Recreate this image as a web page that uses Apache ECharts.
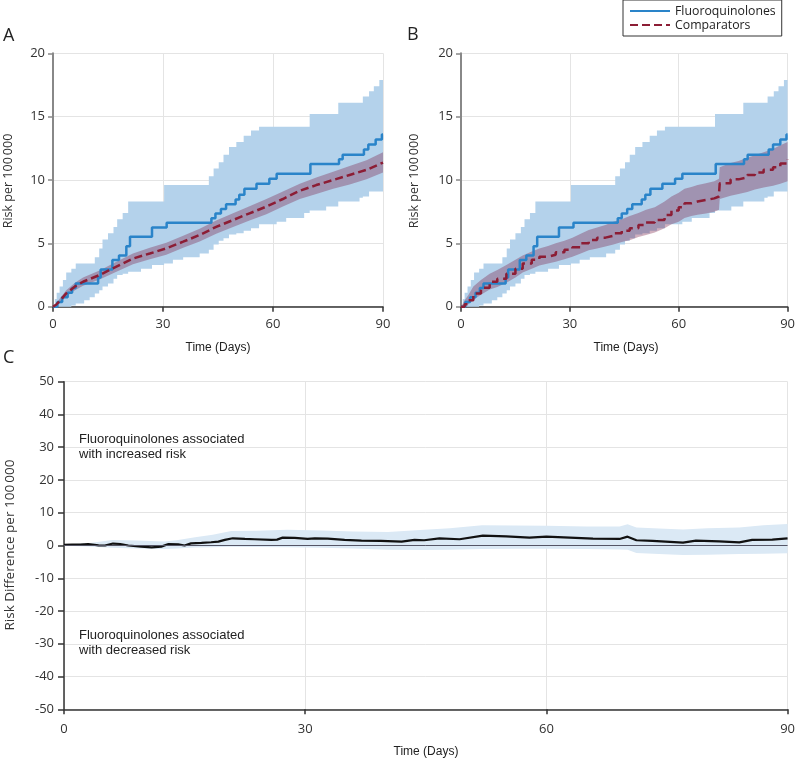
<!DOCTYPE html>
<html><head><meta charset="utf-8">
<script src="https://cdn.jsdelivr.net/npm/echarts/dist/echarts.min.js"></script>
<style>html,body{margin:0;padding:0;background:#fff}#c{width:798px;height:762px}</style>
</head><body><div id="c"></div>
<script>
// ---- Fluoroquinolones cumulative risk (step function, shared by A and B)
const fqDays = [0, 1.2, 2.5, 4, 5.2, 6.2, 12.3, 13, 16.2, 18, 20, 21, 27, 31, 43.2, 44.3, 45.8, 47.2, 49.8, 50.8, 52.2, 55.5, 59, 61, 70.2, 78, 79, 84.8, 86, 88, 89.7, 90];
const fqRisk = [0, 0.37, 0.74, 1.1, 1.47, 1.84, 2.3, 2.94, 3.68, 4.05, 4.78, 5.52, 6.25, 6.62, 6.99, 7.36, 7.72, 8.09, 8.46, 8.83, 9.3, 9.7, 10.1, 10.5, 11.26, 11.63, 12.0, 12.4, 12.8, 13.2, 13.6, 13.6];
// ---- Fluoroquinolones 95% CI (step)
const fqCiDays  = [0, 0.5, 1, 1.8, 2.7, 3.6, 5, 6.2, 8.5, 10, 11.4, 12.6, 13.5, 15, 16.5, 17.5, 19, 20.5, 24, 27, 30.3, 32.7, 35.5, 40, 42.5, 43.8, 45.2, 46.5, 48, 50, 52, 54, 56.2, 61, 63.6, 68.5, 70, 74.5, 77.8, 83.6, 84.5, 86.2, 87.5, 89, 90];
const fqCiUpper = [0, 0.6, 1.1, 1.6, 2.1, 2.7, 3.0, 3.4, 3.4, 3.4, 3.9, 4.6, 5.3, 5.8, 6.3, 6.9, 7.4, 8.3, 8.3, 8.3, 9.6, 9.6, 9.6, 9.6, 10.3, 10.9, 11.4, 12.0, 12.6, 13.0, 13.5, 13.9, 14.2, 14.2, 14.2, 14.2, 15.2, 15.2, 16.1, 16.1, 16.6, 17.0, 17.4, 17.9, 18.0];
const fqCiLower = [0, 0, 0, 0, 0, 0, 0.1, 0.26, 0.5, 0.75, 1.05, 1.3, 1.6, 1.84, 2.2, 2.5, 2.6, 2.76, 3.0, 3.3, 3.4, 3.7, 3.9, 4.2, 4.5, 4.9, 5.2, 5.4, 5.7, 5.8, 6.0, 6.2, 6.5, 6.7, 7.0, 7.4, 7.6, 7.9, 8.3, 8.6, 8.7, 9.1, 9.1, 9.1, 9.1];
// ---- Panel A comparators
const compDaysA  = [0, 1, 2, 3.6, 6, 8.2, 12.7, 17.3, 21.8, 26.4, 30.9, 35.5, 40, 44.5, 49.1, 53.6, 58.2, 62.7, 67.3, 71.8, 76.4, 80.9, 85.5, 90];
const compRiskA  = [0, 0.2, 0.5, 1.05, 1.6, 1.97, 2.5, 3.16, 3.8, 4.2, 4.6, 5.13, 5.66, 6.3, 6.84, 7.37, 7.9, 8.5, 9.15, 9.6, 10.0, 10.4, 10.8, 11.37];
const compUpperA = [0, 0.3, 0.7, 1.3, 1.9, 2.3, 2.85, 3.55, 4.2, 4.65, 5.05, 5.6, 6.15, 6.8, 7.38, 7.93, 8.5, 9.1, 9.7, 10.2, 10.65, 11.1, 11.55, 12.2];
const compLowerA = [0, 0.1, 0.3, 0.8, 1.3, 1.65, 2.15, 2.75, 3.35, 3.75, 4.1, 4.65, 5.15, 5.75, 6.3, 6.8, 7.3, 7.9, 8.5, 8.9, 9.3, 9.65, 10.05, 10.6];
// ---- Panel B comparators
const compDaysB  = [0, 1, 2, 3.4, 5.5, 7.9, 10, 12.5, 15, 17, 19.5, 21.6, 24, 26.1, 28.5, 30.7, 33, 35.2, 37.5, 39.8, 42, 44.3, 46.5, 48.9, 51, 53.4, 56.1, 58, 60, 61.6, 63.5, 65.2, 67.5, 69.8, 71.1, 71.3, 74.3, 76.5, 78.9, 81, 83.4, 86, 88, 90];
const compRiskB  = [0, 0.2, 0.5, 1.05, 1.5, 1.97, 2.2, 2.6, 3.0, 3.4, 3.7, 3.95, 4.1, 4.3, 4.5, 4.7, 5.0, 5.26, 5.45, 5.6, 5.8, 6.0, 6.2, 6.45, 6.65, 6.84, 7.24, 7.6, 7.85, 8.16, 8.3, 8.42, 8.55, 8.7, 8.87, 9.74, 10.05, 10.2, 10.4, 10.6, 10.8, 11.0, 11.3, 11.63];
const compUpperB = [0, 0.5, 0.9, 1.6, 2.1, 2.6, 2.9, 3.3, 3.7, 4.05, 4.35, 4.6, 4.8, 5.0, 5.2, 5.45, 5.75, 6.05, 6.25, 6.45, 6.7, 6.9, 7.15, 7.4, 7.65, 7.85, 8.3, 8.7, 9.0, 9.3, 9.45, 9.6, 9.75, 9.9, 10.1, 11.0, 11.35, 11.5, 11.75, 11.95, 12.2, 12.45, 12.75, 13.0];
const compLowerB = [0, 0.05, 0.2, 0.55, 0.95, 1.35, 1.55, 1.9, 2.3, 2.7, 3.0, 3.25, 3.4, 3.55, 3.75, 3.95, 4.2, 4.45, 4.6, 4.75, 4.9, 5.1, 5.25, 5.5, 5.65, 5.85, 6.2, 6.5, 6.7, 7.0, 7.15, 7.25, 7.35, 7.5, 7.65, 8.5, 8.75, 8.9, 9.05, 9.25, 9.4, 9.55, 9.7, 9.9];
// ---- Panel C risk difference
const rdDays = [0, 1, 2, 3, 4.3, 5.1, 6.1, 7, 8, 9.6, 10.9, 12.1, 13, 14.2, 15, 15.8, 17.1, 18.3, 19.2, 20, 21, 22.5, 23.7, 25.8, 26.5, 27.2, 28.7, 30.3, 31.2, 32.8, 34.9, 37, 39.4, 42, 43.6, 44.8, 46.7, 49.2, 52.1, 55, 57.9, 60, 62.9, 65.8, 69.1, 70.1, 71.2, 73.2, 77, 78.6, 81.5, 84, 85.6, 88.1, 90];
const rdValue = [0.2, 0.25, 0.3, 0.45, 0.05, 0, 0.6, 0.45, 0, -0.35, -0.55, -0.35, 0.45, 0.35, 0, 0.66, 0.8, 1.0, 1.2, 1.7, 2.2, 2.0, 1.9, 1.7, 1.8, 2.4, 2.3, 2.0, 2.2, 2.1, 1.7, 1.5, 1.4, 1.2, 1.7, 1.6, 2.2, 1.9, 3.0, 2.8, 2.4, 2.7, 2.4, 2.1, 2.0, 2.7, 1.6, 1.4, 0.86, 1.47, 1.27, 0.97, 1.7, 1.8, 2.2];
const rdCiDays  = [0, 3, 6, 9, 12.5, 14, 16.3, 18.5, 20.8, 24, 27.8, 32, 36, 40.3, 44.8, 48, 52, 56, 60, 65, 69.1, 70.1, 71.2, 74, 77, 80, 84, 87, 90];
const rdCiUpper = [0.3, 0.7, 1.7, 1.5, 1.2, 1.6, 2.5, 3.3, 4.4, 4.5, 4.8, 4.6, 4.3, 4.1, 4.8, 5.3, 6.2, 6.1, 6.0, 5.8, 5.8, 6.5, 5.5, 5.2, 4.9, 5.3, 5.5, 6.2, 6.6];
const rdCiLower = [-0.1, -0.3, -0.7, -0.9, -1.1, -0.9, -0.6, -0.5, -0.35, -0.45, -0.55, -0.7, -0.9, -1.3, -1.4, -1.3, -1.1, -1.0, -1.0, -1.1, -1.2, -1.3, -2.3, -2.6, -2.9, -2.8, -2.6, -2.5, -2.4];
// ---- axis ticks / text
const riskTicks = [0, 5, 10, 15, 20];
const dayTicks = [0, 30, 60, 90];
const rdTicks = [-50, -40, -30, -20, -10, 0, 10, 20, 30, 40, 50];

const BLUE = '#2a84c9', RED = '#8c1d35', BLUE_BAND = '#b4d2eb', RED_BAND = 'rgba(125,35,75,0.36)', C_BAND = '#dbe9f5';
const TICK_FONT = 'Open Sans';
const pairs = (d, v) => d.map((x, i) => [x, v[i]]);

function band(name, xi, yi, days, up, low, step, color, z) {
  return {
    type: 'custom', name: name, xAxisIndex: xi, yAxisIndex: yi, z: z, silent: true,
    data: [[days[0], low[0]]],
    renderItem: function (params, api) {
      const pts = [], n = days.length;
      for (let i = 0; i < n; i++) {
        pts.push(api.coord([days[i], up[i]]));
        if (step && i < n - 1) pts.push(api.coord([days[i + 1], up[i]]));
      }
      for (let i = n - 1; i >= 0; i--) {
        if (step && i < n - 1) pts.push(api.coord([days[i + 1], low[i]]));
        pts.push(api.coord([days[i], low[i]]));
      }
      return { type: 'polygon', shape: { points: pts }, style: { fill: color } };
    }
  };
}

function xAx(gi, labelMargin) {
  return {
    type: 'value', gridIndex: gi, min: dayTicks[0], max: dayTicks[dayTicks.length - 1], interval: 30,
    axisLine: { show: true, onZero: false, lineStyle: { color: '#333', width: 1.5 } },
    axisTick: { show: true, length: 5, lineStyle: { color: '#333', width: 1.5 } },
    axisLabel: { margin: labelMargin, fontFamily: TICK_FONT, fontSize: 13, color: '#333' },
    splitLine: { show: true, lineStyle: { color: '#e4e4e4', width: 1 } }
  };
}
function yAxRisk(gi) {
  return {
    type: 'value', gridIndex: gi, min: riskTicks[0], max: riskTicks[riskTicks.length - 1], interval: 5,
    axisLine: { show: true, lineStyle: { color: '#888', width: 2 } },
    axisTick: { show: true, length: 5, lineStyle: { color: '#888', width: 1.5 } },
    axisLabel: { margin: 8, fontFamily: TICK_FONT, fontSize: 13, color: '#333' },
    splitLine: { show: true, lineStyle: { color: '#e4e4e4', width: 1 } }
  };
}

const option = {
  animation: false,
  backgroundColor: '#fff',
  grid: [
    { left: 53, right: 415, top: 53.3, bottom: 455.3 },
    { left: 461, right: 7.3, top: 53.3, bottom: 455.3 },
    { left: 64, right: 9, top: 381.7, bottom: 52.7 }
  ],
  xAxis: [xAx(0, 11), xAx(1, 11), xAx(2, 13)],
  yAxis: [yAxRisk(0), yAxRisk(1), {
    type: 'value', gridIndex: 2, min: rdTicks[0], max: rdTicks[rdTicks.length - 1], interval: 10,
    axisLine: { show: true, onZero: false, lineStyle: { color: '#333', width: 1.5 } },
    axisTick: { show: true, length: 6, lineStyle: { color: '#333', width: 1.5 } },
    axisLabel: { margin: 10, fontFamily: TICK_FONT, fontSize: 13, color: '#333' },
    splitLine: { show: true, lineStyle: { color: '#e4e4e4', width: 1 } }
  }],
  legend: {
    data: ['Fluoroquinolones', 'Comparators'], orient: 'vertical', left: 623, top: 0,
    itemWidth: 40, itemHeight: 12, itemGap: 2, padding: [5, 6, 5, 6],
    itemStyle: { opacity: 0 },
    borderColor: '#333', borderWidth: 1, selectedMode: false,
    textStyle: { fontFamily: TICK_FONT, fontSize: 12.3, color: '#222' }
  },
  graphic: [
    { type: 'text', left: 3, top: 27, style: { text: 'A', font: '18px "Open Sans"', fill: '#222' } },
    { type: 'text', left: 407, top: 26, style: { text: 'B', font: '18px "Open Sans"', fill: '#222' } },
    { type: 'text', left: 3, top: 349, style: { text: 'C', font: '18px "Open Sans"', fill: '#222' } },
    { type: 'text', x: 8, y: 181, rotation: Math.PI / 2, style: { text: 'Risk per 100\u2009000', font: '12.5px "Open Sans"', fill: '#333', textAlign: 'center', textVerticalAlign: 'middle' } },
    { type: 'text', x: 414, y: 181, rotation: Math.PI / 2, style: { text: 'Risk per 100\u2009000', font: '12.5px "Open Sans"', fill: '#333', textAlign: 'center', textVerticalAlign: 'middle' } },
    { type: 'text', x: 10, y: 545, rotation: Math.PI / 2, style: { text: 'Risk Difference per 100\u2009000', font: '13.5px "Open Sans"', fill: '#333', textAlign: 'center', textVerticalAlign: 'middle' } },
    { type: 'text', x: 218, y: 348, style: { text: 'Time (Days)', font: '12px "Liberation Sans"', fill: '#222', textAlign: 'center', textVerticalAlign: 'middle' } },
    { type: 'text', x: 626, y: 348, style: { text: 'Time (Days)', font: '12px "Liberation Sans"', fill: '#222', textAlign: 'center', textVerticalAlign: 'middle' } },
    { type: 'text', x: 426, y: 752, style: { text: 'Time (Days)', font: '12px "Liberation Sans"', fill: '#222', textAlign: 'center', textVerticalAlign: 'middle' } },
    { type: 'text', x: 79, y: 447, style: { text: 'Fluoroquinolones associated\nwith increased risk', font: '13px "Liberation Sans"', lineHeight: 15, fill: '#222', textVerticalAlign: 'middle' } },
    { type: 'text', x: 79, y: 643, style: { text: 'Fluoroquinolones associated\nwith decreased risk', font: '13px "Liberation Sans"', lineHeight: 15, fill: '#222', textVerticalAlign: 'middle' } }
  ],
  series: [
    band('fqCiA', 0, 0, fqCiDays, fqCiUpper, fqCiLower, true, BLUE_BAND, 1),
    band('compCiA', 0, 0, compDaysA, compUpperA, compLowerA, false, RED_BAND, 2),
    { type: 'line', name: 'Fluoroquinolones', xAxisIndex: 0, yAxisIndex: 0, z: 3, step: 'end', symbol: 'none',
      data: pairs(fqDays, fqRisk), lineStyle: { color: BLUE, width: 2.5 }, itemStyle: { color: BLUE } },
    { type: 'line', name: 'Comparators', xAxisIndex: 0, yAxisIndex: 0, z: 4, symbol: 'none',
      data: pairs(compDaysA, compRiskA), lineStyle: { color: RED, width: 2.5, type: [8, 4] }, itemStyle: { color: RED } },

    band('fqCiB', 1, 1, fqCiDays, fqCiUpper, fqCiLower, true, BLUE_BAND, 1),
    band('compCiB', 1, 1, compDaysB, compUpperB, compLowerB, false, RED_BAND, 2),
    { type: 'line', name: 'Fluoroquinolones', xAxisIndex: 1, yAxisIndex: 1, z: 3, step: 'end', symbol: 'none',
      data: pairs(fqDays, fqRisk), lineStyle: { color: BLUE, width: 2.5 }, itemStyle: { color: BLUE } },
    { type: 'line', name: 'Comparators', xAxisIndex: 1, yAxisIndex: 1, z: 4, symbol: 'none', step: 'end',
      data: pairs(compDaysB, compRiskB), lineStyle: { color: RED, width: 2.5, type: [9, 5] }, itemStyle: { color: RED } },

    band('rdCi', 2, 2, rdCiDays, rdCiUpper, rdCiLower, false, C_BAND, 1),
    { type: 'line', name: 'Risk difference', xAxisIndex: 2, yAxisIndex: 2, z: 3, symbol: 'none',
      data: pairs(rdDays, rdValue), lineStyle: { color: '#111', width: 2.2 }, itemStyle: { color: '#111' },
      markLine: { silent: true, symbol: 'none', label: { show: false }, data: [{ yAxis: 0 }],
        lineStyle: { color: '#556', width: 1, type: 'solid' } } }
  ]
};
const chart = echarts.init(document.getElementById('c'), null, { renderer: 'canvas' });
chart.setOption(option);
</script></body></html>
